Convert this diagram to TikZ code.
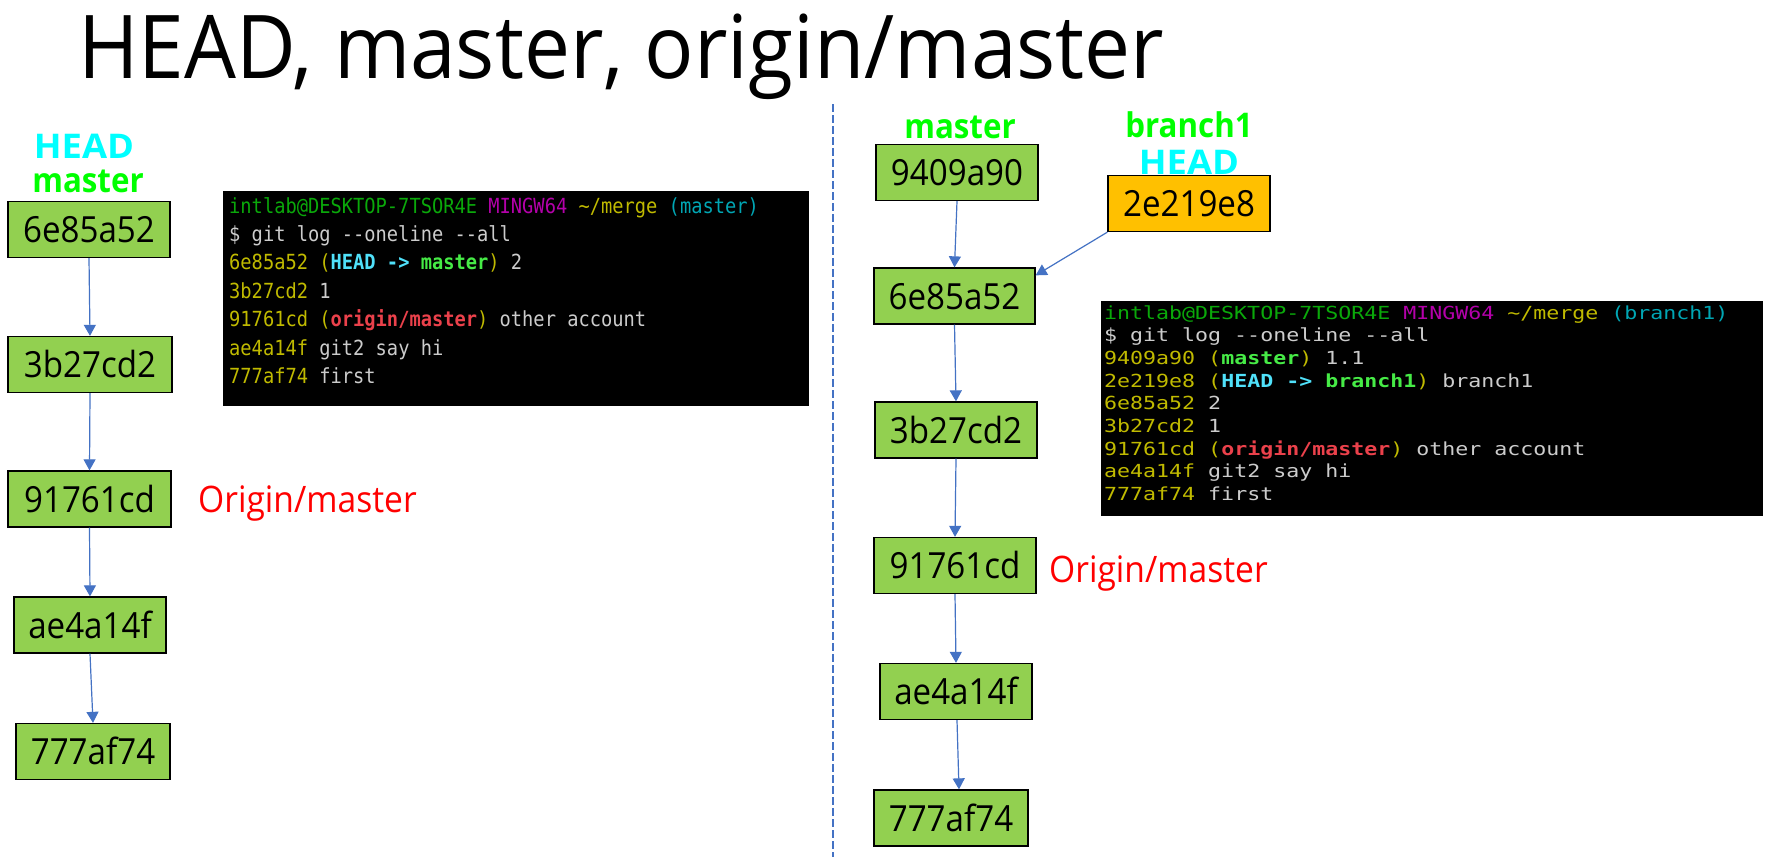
\documentclass[tikz,border=0pt]{standalone}
\usepackage{fontspec}
\setmainfont{Open Sans}
\newfontfamily\segoe[FakeStretch=0.92]{Open Sans}
\newfontfamily\segoeT[FakeStretch=0.932]{Open Sans}
\newfontfamily\segoeW[FakeStretch=1.07]{Open Sans}
\newfontfamily\termA[FakeStretch=0.9]{DejaVu Sans Mono}
\newfontfamily\termB[FakeStretch=1.2]{DejaVu Sans Mono}
\usetikzlibrary{arrows.meta}
\definecolor{boxgreen}{HTML}{92D050}
\definecolor{boxorange}{HTML}{FFC000}
\definecolor{arrowblue}{HTML}{4472C4}
\definecolor{lblcyan}{HTML}{00FFFF}
\definecolor{lblgreen}{HTML}{00FF00}
\definecolor{lblred}{HTML}{FF0000}
\definecolor{tgreen}{RGB}{10,168,10}
\definecolor{tmag}{RGB}{180,0,170}
\definecolor{tyel}{RGB}{192,186,0}
\definecolor{tteal}{RGB}{0,166,180}
\definecolor{tcyanb}{RGB}{80,225,250}
\definecolor{tgreenb}{RGB}{70,235,70}
\definecolor{tredb}{RGB}{235,65,75}
\definecolor{twhite}{RGB}{204,204,204}
\newcommand{\dd}{-\kern0pt-}
\newcommand{\ty}[1]{\textcolor{tyel}{#1}}
\newcommand{\tw}[1]{\textcolor{twhite}{#1}}
\newcommand{\tHEAD}{\textcolor{tcyanb}{\bfseries HEAD -> }}
\newcommand{\tbg}[1]{\textcolor{tgreenb}{\bfseries #1}}
\newcommand{\tbr}[1]{\textcolor{tredb}{\bfseries #1}}
\newcommand{\prompt}[1]{\textcolor{tgreen}{intlab@DESKTOP-7TSOR4E} \textcolor{tmag}{MINGW64} \ty{\textasciitilde/merge} \textcolor{tteal}{(#1)}}
\begin{document}
\begin{tikzpicture}[x=1pt,y=-1pt,
  commit/.style={draw=black, line width=1.3pt, fill=boxgreen, minimum height=56pt,
    inner sep=0pt, text height=26pt, text depth=0pt,
    font=\segoe\fontsize{36}{40}\selectfont},
  conn/.style={draw=arrowblue, line width=1.2pt, -{Triangle[width=12pt,length=11pt]}},
  headlbl/.style={text=lblcyan, anchor=base, inner sep=0pt,
    font=\segoeW\bfseries\fontsize{34}{36}\selectfont},
  brlbl/.style={text=lblgreen, anchor=base, inner sep=0pt,
    font=\segoe\bfseries\fontsize{34}{36}\selectfont},
  originlbl/.style={text=lblred, anchor=base west, inner sep=0pt,
    font=\segoe\fontsize{36.5}{40}\selectfont},
  termbg/.style={fill=black, inner sep=0pt, anchor=north west},
  tlineA/.style={anchor=base west, inner sep=0pt, text=twhite, font=\termA\fontsize{20.8}{24}\selectfont},
  tlineB/.style={anchor=base west, inner sep=0pt, text=twhite, font=\termB\fontsize{18}{22}\selectfont},
  divider/.style={draw=arrowblue, line width=2.7pt, dash pattern=on 8pt off 3pt}
]
\useasboundingbox (0,0) rectangle (1770,857);
\fill[white] (0,0) rectangle (1770,857);

% title
\node[anchor=base west, inner sep=0pt, font=\segoeT\fontsize{88}{96}\selectfont] (title) at (78,78) {HEAD, master, origin/master};

% divider
\coordinate (dtop) at (833,104);
\coordinate (dbot) at (833,857);
\draw[divider] (dtop) -- (dbot);

% ---------- left column ----------
\node[commit, minimum width=162pt] (L1) at (89,229.5) {6e85a52};
\node[commit, minimum width=164pt] (L2) at (90,364.5) {3b27cd2};
\node[commit, minimum width=163pt] (L3) at (89.5,499) {91761cd};
\node[commit, minimum width=152pt] (L4) at (90,625) {ae4a14f};
\node[commit, minimum width=154pt] (L5) at (93,751.5) {777af74};
\draw[conn] (L1.south) -- (L2.north);
\draw[conn] (L2.south) -- (L3.north);
\draw[conn] (L3.south) -- (L4.north);
\draw[conn] (L4.south) -- (L5.north);

\node[headlbl] (lhead) at (84,158) {HEAD};
\node[brlbl] (lmaster) at (88,192) {master};
\node[originlbl] (lorigin) at (198,512) {Origin/master};

% terminal 1
\node[termbg, minimum width=586pt, minimum height=215pt] (term1) at (223,191) {};
\node[tlineA] (t1a) at (229,213) {\prompt{master}};
\node[tlineA] (t1b) at (229,241.4) {\$ git log \dd oneline \dd all};
\node[tlineA] (t1c) at (229,269.8) {\ty{6e85a52 (}\tHEAD\tbg{master}\ty{)} 2};
\node[tlineA] (t1d) at (229,298.2) {\ty{3b27cd2} 1};
\node[tlineA] (t1e) at (229,326.6) {\ty{91761cd (}\tbr{origin/master}\ty{)} other account};
\node[tlineA] (t1f) at (229,355) {\ty{ae4a14f} git2 say hi};
\node[tlineA] (t1g) at (229,383.4) {\ty{777af74} first};

% ---------- right column ----------
\node[commit, minimum width=162pt] (R0) at (957,172.5) {9409a90};
\node[commit, minimum width=162pt, fill=boxorange] (Rb) at (1189,203.5) {2e219e8};
\node[commit, minimum width=161pt] (R1) at (954.5,296) {6e85a52};
\node[commit, minimum width=162pt] (R2) at (956,430) {3b27cd2};
\node[commit, minimum width=162pt] (R3) at (955,565.5) {91761cd};
\node[commit, minimum width=152pt] (R4) at (956,691.5) {ae4a14f};
\node[commit, minimum width=154pt] (R5) at (951,818) {777af74};
\draw[conn] (R0.south) -- (R1.north);
\draw[conn] (Rb.south west) -- ([yshift=-8pt]R1.north east);
\draw[conn] (R1.south) -- (R2.north);
\draw[conn] (R2.south) -- (R3.north);
\draw[conn] (R3.south) -- (R4.north);
\draw[conn] ([xshift=1pt]R4.south) -- ([xshift=8pt]R5.north);

\node[brlbl] (rmaster) at (960,138) {master};
\node[brlbl] (rbranch) at (1189,137) {branch1};
\node[headlbl] (rhead) at (1189,174) {HEAD};
\node[originlbl] (rorigin) at (1049,582) {Origin/master};

% terminal 2
\node[termbg, minimum width=662pt, minimum height=215pt] (term2) at (1101,301) {};
\node[tlineB] (t2a) at (1104,319) {\prompt{branch1}};
\node[tlineB] (t2b) at (1104,341.7) {\$ git log \dd oneline \dd all};
\node[tlineB] (t2c) at (1104,364.4) {\ty{9409a90 (}\tbg{master}\ty{)} 1.1};
\node[tlineB] (t2d) at (1104,387.1) {\ty{2e219e8 (}\tHEAD\tbg{branch1}\ty{)} branch1};
\node[tlineB] (t2e) at (1104,409.8) {\ty{6e85a52} 2};
\node[tlineB] (t2f) at (1104,432.5) {\ty{3b27cd2} 1};
\node[tlineB] (t2g) at (1104,455.2) {\ty{91761cd (}\tbr{origin/master}\ty{)} other account};
\node[tlineB] (t2h) at (1104,477.9) {\ty{ae4a14f} git2 say hi};
\node[tlineB] (t2i) at (1104,500.6) {\ty{777af74} first};
\end{tikzpicture}
\end{document}
